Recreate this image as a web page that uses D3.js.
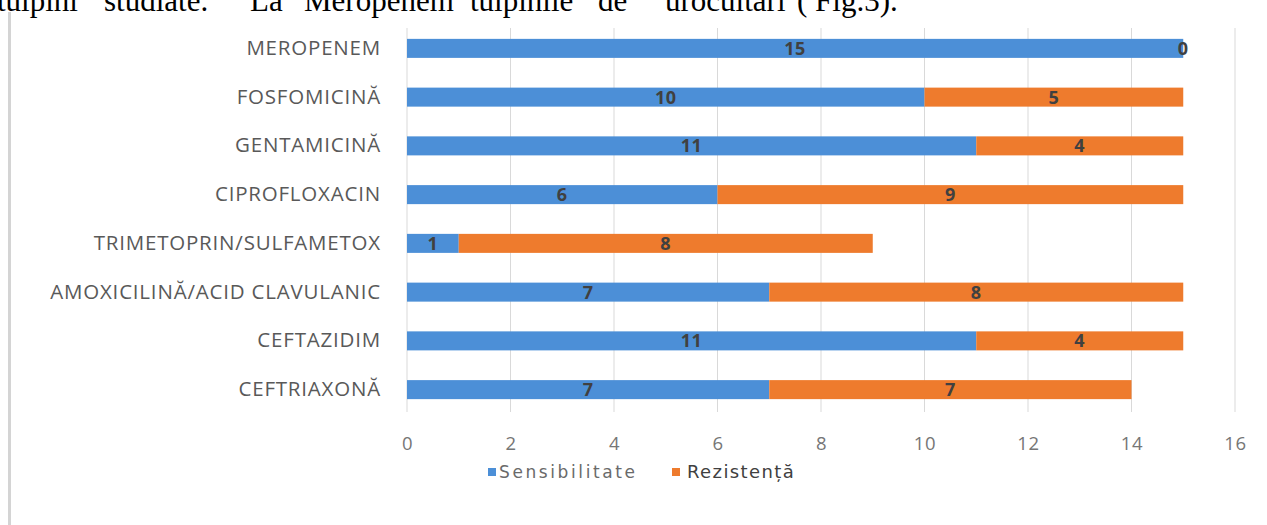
<!DOCTYPE html>
<html>
<head>
<meta charset="utf-8">
<script src="https://cdn.jsdelivr.net/npm/d3@7"></script>
<style>
  html, body { margin: 0; padding: 0; background: #fff; }
  svg { display: block; }
</style>
</head>
<body>
<svg id="chart" width="1267" height="525"></svg>
<script>
// Antibiotic susceptibility of the studied strains
const categories = [
  "MEROPENEM",
  "FOSFOMICINĂ",
  "GENTAMICINĂ",
  "CIPROFLOXACIN",
  "TRIMETOPRIN/SULFAMETOX",
  "AMOXICILINĂ/ACID CLAVULANIC",
  "CEFTAZIDIM",
  "CEFTRIAXONĂ"
];
const sensibilitate = [15, 10, 11, 6, 1, 7, 11, 7];
const rezistenta    = [0, 5, 4, 9, 8, 8, 4, 7];
const seriesNames = ["Sensibilitate", "Rezistență"];
const xTicks = [0, 2, 4, 6, 8, 10, 12, 14, 16];
const headerWords = ["tulpini", "studiate.", "La", "Meropenem", "tulpinile", "de", "urocultari", "( Fig.3)."];

const colors = ["#4c8fd7", "#ee7b2d"];

const svg = d3.select("#chart");

// running text line above the figure, clipped by the top edge
const headerX = [-3, 104, 250, 304, 470, 598, 665, 797];
svg.append("g")
  .selectAll("text")
  .data(headerWords)
  .join("text")
  .attr("x", (d, i) => headerX[i])
  .attr("y", 11)
  .attr("font-family", "Liberation Serif, Times New Roman, serif")
  .attr("font-size", 31)
  .attr("fill", "#000")
  .text(d => d);

// figure frame on the left
svg.append("rect")
  .attr("x", 8).attr("y", 12).attr("width", 3).attr("height", 513)
  .attr("fill", "#d4d4d4");

const x = d3.scaleLinear().domain([0, 16]).range([407, 1235]);
const y = d3.scaleBand().domain(categories).range([24, 414]).paddingInner(0.61).paddingOuter(0.305);

// vertical gridlines
svg.append("g")
  .selectAll("line")
  .data(xTicks)
  .join("line")
  .attr("x1", d => x(d)).attr("x2", d => x(d))
  .attr("y1", 28).attr("y2", 412)
  .attr("stroke", "#d9d9d9").attr("stroke-width", 1);

// x axis labels
const xAxis = d3.axisBottom(x).tickValues(xTicks).tickSize(0).tickPadding(0);
const gx = svg.append("g").attr("transform", "translate(0,437)").call(xAxis);
gx.select(".domain").remove();
gx.selectAll("text")
  .attr("font-family", "Open Sans, sans-serif")
  .attr("font-size", 18.5)
  .attr("letter-spacing", 0.6)
  .attr("fill", "#767676");

// category labels
const yAxis = d3.axisLeft(y).tickSize(0).tickPadding(0);
const gy = svg.append("g").attr("transform", "translate(381,0)").call(yAxis);
gy.select(".domain").remove();
gy.selectAll("text")
  .attr("font-family", "Open Sans, sans-serif")
  .attr("font-size", 20.5)
  .attr("letter-spacing", 0.8)
  .attr("fill", "#595959");

// stacked bars
const rows = categories.map((c, i) => ({ cat: c, Sensibilitate: sensibilitate[i], "Rezistență": rezistenta[i] }));
const stack = d3.stack().keys(seriesNames)(rows);

const layers = svg.append("g")
  .selectAll("g")
  .data(stack)
  .join("g")
  .attr("fill", (d, i) => colors[i]);

layers.selectAll("rect")
  .data(d => d)
  .join("rect")
  .attr("x", d => x(d[0]))
  .attr("y", d => y(d.data.cat))
  .attr("width", d => x(d[1]) - x(d[0]))
  .attr("height", y.bandwidth());

// value labels in the middle of each segment
svg.append("g")
  .selectAll("g")
  .data(stack)
  .join("g")
  .selectAll("text")
  .data(d => d.map(p => ({ p, key: d.key })))
  .join("text")
  .attr("x", d => x((d.p[0] + d.p[1]) / 2))
  .attr("y", d => y(d.p.data.cat) + y.bandwidth() / 2)
  .attr("dy", "0.36em")
  .attr("text-anchor", "middle")
  .attr("font-family", "Open Sans, sans-serif")
  .attr("font-weight", "bold")
  .attr("font-size", 18)
  .attr("letter-spacing", 0.5)
  .attr("fill", "#404040")
  .text(d => d.p[1] - d.p[0]);

// legend
const legendX = [488, 672];
const legend = svg.append("g")
  .selectAll("g")
  .data(seriesNames)
  .join("g")
  .attr("transform", (d, i) => `translate(${legendX[i]},472)`);
legend.append("rect")
  .attr("x", 0).attr("y", -4).attr("width", 8).attr("height", 8)
  .attr("fill", (d, i) => colors[i]);
legend.append("text")
  .attr("x", (d, i) => i === 0 ? 11 : 15).attr("y", 0).attr("dy", "0.36em")
  .attr("font-family", "DejaVu Sans, Verdana, sans-serif")
  .attr("font-size", (d, i) => i === 0 ? 17 : 18)
  .attr("letter-spacing", (d, i) => i === 0 ? 2.6 : 1.4)
  .attr("fill", (d, i) => i === 0 ? "#6a6a6a" : "#404040")
  .text(d => d);
</script>
</body>
</html>
